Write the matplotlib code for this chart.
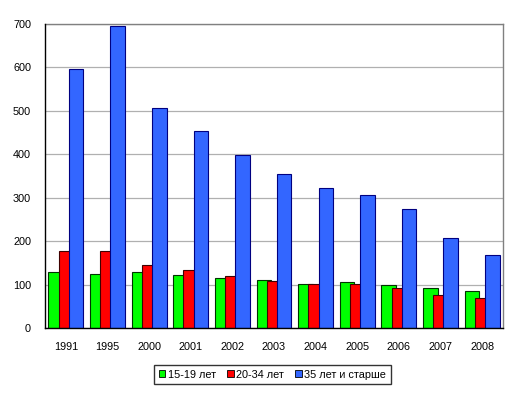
import matplotlib
matplotlib.use("Agg")
import matplotlib.pyplot as plt
import numpy as np

years = ["1991", "1995", "2000", "2001", "2002", "2003", "2004", "2005", "2006", "2007", "2008"]
age_15_19 = [128, 125, 130, 123, 116, 110, 102, 105, 100, 93, 85]
age_20_34 = [178, 178, 144, 133, 119, 108, 102, 102, 91, 77, 68]
age_35_plus = [597, 695, 506, 453, 398, 355, 322, 307, 273, 208, 169]
series_names = ["15-19 лет", "20-34 лет", "35 лет и старше"]
y_ticks = [0, 100, 200, 300, 400, 500, 600, 700]

plt.rcParams['font.family'] = ['Liberation Sans', 'DejaVu Sans']

fig = plt.figure(figsize=(5.17, 3.93), dpi=100)
ax = fig.add_axes([45/517, 65/393, 458/517, 304/393])

x = np.arange(len(years))
w = 0.35
step = 0.245
colors = ["#00FF00", "#FF0000", "#3366FF"]
edges = ["#003300", "#400000", "#000080"]
data = [age_15_19, age_20_34, age_35_plus]
handles = []
for i, (vals, c, e, name) in enumerate(zip(data, colors, edges, series_names)):
    b = ax.bar(x + (i - 1) * step, vals, width=w, color=c, edgecolor=e,
               linewidth=0.8, label=name, zorder=3 + i)
    handles.append(b)

ax.set_xlim(-0.5, len(years) - 0.5)
ax.set_ylim(0, 700)
ax.set_yticks(y_ticks)
ax.set_yticklabels([str(t) for t in y_ticks])
ax.set_xticks(x)
ax.set_xticklabels(years)
ax.tick_params(axis='both', length=0, labelsize=7.8, colors='black')
ax.tick_params(axis='y', pad=10)
ax.tick_params(axis='x', pad=10)
ax.yaxis.grid(True, color='#b0b0b0', linewidth=0.9, zorder=0)
ax.set_axisbelow(True)
for s in ['top', 'right']:
    ax.spines[s].set_color('#808080')
    ax.spines[s].set_linewidth(1.0)
for s in ['left', 'bottom']:
    ax.spines[s].set_color('black')
    ax.spines[s].set_linewidth(1.0)
    ax.spines[s].set_zorder(10)

leg = fig.legend(handles=handles, labels=series_names, ncol=3,
                 loc='center', bbox_to_anchor=(272.5/517, 18.5/393),
                 frameon=True, fancybox=False, fontsize=7.8,
                 handlelength=0.6, handleheight=0.6, handletextpad=0.25,
                 columnspacing=1.0, borderpad=0.45, borderaxespad=0,
                 edgecolor='black')
leg.get_frame().set_linewidth(1.0)
for h in leg.legend_handles:
    h.set_edgecolor('black')
    h.set_linewidth(0.6)

fig.savefig("out.png", dpi=100)
